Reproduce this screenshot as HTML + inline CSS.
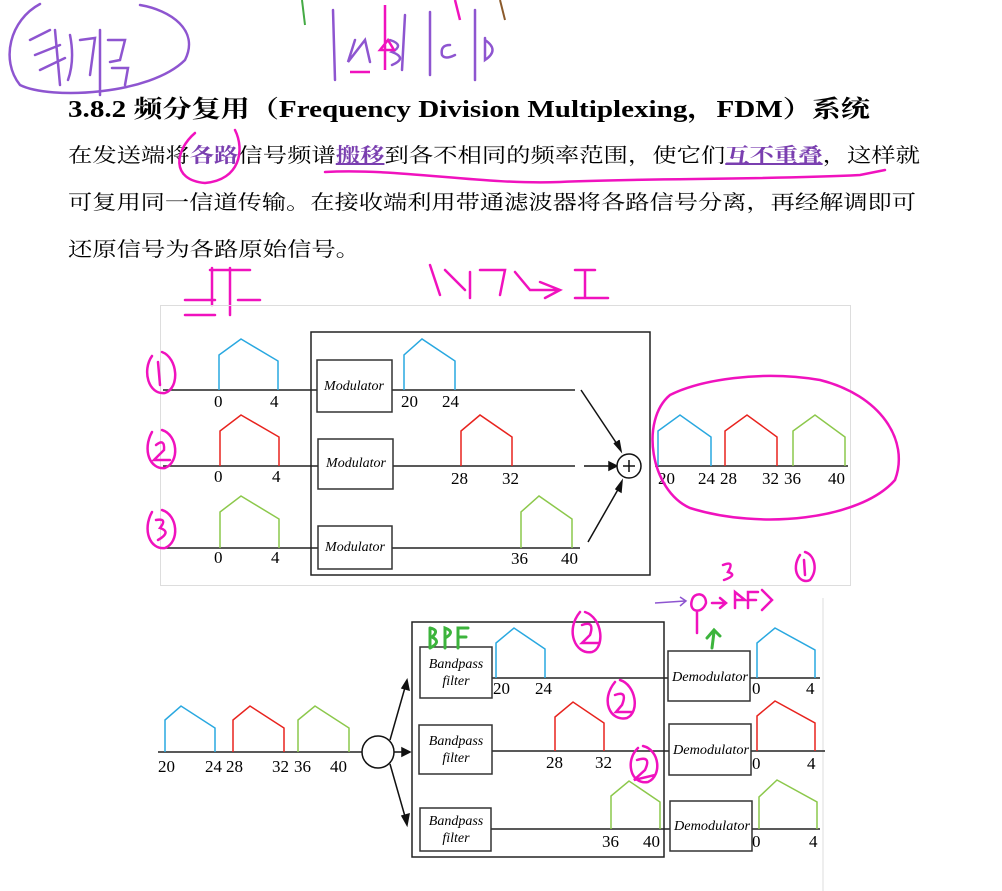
<!DOCTYPE html>
<html><head><meta charset="utf-8"><style>
html,body{margin:0;padding:0;background:#fff;}
svg{display:block;}
.cn{font-family:"Liberation Serif","Noto Serif CJK SC",serif;}
.it{font-family:"Liberation Serif",serif;font-style:italic;font-size:14px;}
.num{font-family:"Liberation Serif",serif;font-size:17px;}
</style></head><body>
<svg width="1002" height="891" viewBox="0 0 1002 891" xmlns="http://www.w3.org/2000/svg">
<g fill="none" stroke="#8e55d0" stroke-width="2.5" stroke-linecap="round">
<path d="M40 4 C10 20 0 60 20 85 C50 100 150 95 185 60 C200 30 170 10 140 5"/>
<path d="M30 40 L50 30 M35 55 L60 45 M40 70 L65 58 M55 30 L60 85 M70 35 Q75 60 68 80 M80 40 L95 38 L90 75 M100 30 L100 95 M108 40 L125 40 L120 60 L110 62 M112 68 L128 68 L125 85"/>
<path d="M333 10 L335 80 M475 10 L475 80 M405 15 L402 70 M430 12 L430 75 M355 40 L348 62 L365 40 L370 62 M390 40 Q405 45 392 52 Q408 58 392 65 M450 45 Q440 45 442 55 Q445 60 455 55 M485 38 L485 60 Q500 50 485 40"/>
</g>
<g fill="none" stroke="#f012be" stroke-width="2.5"><path d="M385 5 L385 70 M380 50 L388 40 L394 50 Z M455 0 L460 20"/><path d="M350 72 L370 72"/></g>
<path d="M302 0 L305 25" stroke="#4a4" stroke-width="2"/>
<path d="M500 0 L505 20" stroke="#8b5a2b" stroke-width="2"/>

<text x="68" y="117" class="cn" font-size="24" font-weight="bold" textLength="802" lengthAdjust="spacingAndGlyphs">3.8.2  频分复用（Frequency Division Multiplexing，FDM）系统</text>
<text x="68" y="162" class="cn" font-size="20" textLength="852" lengthAdjust="spacingAndGlyphs">在发送端将<tspan fill="#7a3fb0" font-weight="bold">各路</tspan>信号频谱<tspan fill="#7a3fb0" font-weight="bold" text-decoration="underline">搬移</tspan>到各不相同的频率范围，使它们<tspan fill="#7a3fb0" font-weight="bold" text-decoration="underline">互不重叠</tspan>，这样就</text>
<text x="68" y="209" class="cn" font-size="20" textLength="848" lengthAdjust="spacingAndGlyphs">可复用同一信道传输。在接收端利用带通滤波器将各路信号分离，再经解调即可</text>
<text x="68" y="256" class="cn" font-size="20" textLength="292" lengthAdjust="spacingAndGlyphs">还原信号为各路原始信号。</text>
<g fill="none" stroke="#f012be" stroke-width="2.5" stroke-linecap="round">
<path d="M195 133 C175 150 170 180 205 183 C240 180 245 150 235 130"/>
<path d="M325 172 C400 168 480 185 560 182 C650 178 760 180 860 175 L885 170"/>
<path d="M185 300 L215 300 M212 268 L212 305 M230 268 L230 315 M210 270 L250 270 M238 300 L260 300 M185 315 L215 315"/>
<path d="M430 265 L440 295 M445 270 L465 290 M470 272 L470 298 M480 270 L505 270 L500 295 M515 272 L530 290 L560 290 M540 282 L560 290 L545 298 M575 270 L595 270 M585 270 L585 298 M575 298 L608 298"/>
</g>

<rect x="160.5" y="305.5" width="690" height="280" fill="none" stroke="#ddd"/>
<rect x="311" y="332" width="339" height="243" fill="none" stroke="#222" stroke-width="1.5"/>
<g stroke="#222" stroke-width="1.5" fill="none">
<line x1="163" y1="390" x2="575" y2="390"/>
<line x1="163" y1="466" x2="575" y2="466"/>
<line x1="163" y1="548" x2="580" y2="548"/>
<line x1="655" y1="466" x2="848" y2="466"/>
</g>
<g fill="#fff" stroke="#333" stroke-width="1.5">
<rect x="317" y="360" width="75" height="52"/>
<rect x="318" y="439" width="75" height="50"/>
<rect x="318" y="526" width="74" height="43"/>
</g>
<text x="354" y="390" class="it" text-anchor="middle">Modulator</text>
<text x="356" y="467" class="it" text-anchor="middle">Modulator</text>
<text x="355" y="551" class="it" text-anchor="middle">Modulator</text>
<g fill="none" stroke-width="1.5">
<path d="M219 390 V355 L241 339 L278 361 V390" stroke="#29a8e0"/>
<path d="M220 466 V431 L241 415 L279 437 V466" stroke="#e8231e"/>
<path d="M220 548 V512 L241 496 L279 519 V548" stroke="#8cc84b"/>
<path d="M404 390 V355 L422 339 L455 361 V390" stroke="#29a8e0"/>
<path d="M461 466 V431 L480 415 L512 437 V466" stroke="#e8231e"/>
<path d="M521 548 V512 L539 496 L572 519 V548" stroke="#8cc84b"/>
<path d="M658 466 V431 L680 415 L711 437 V466" stroke="#29a8e0"/>
<path d="M725 466 V431 L747 415 L777 437 V466" stroke="#e8231e"/>
<path d="M793 466 V431 L815 415 L845 437 V466" stroke="#8cc84b"/>
</g>
<g class="num">
<text x="214" y="407">0</text><text x="270" y="407">4</text>
<text x="214" y="482">0</text><text x="272" y="482">4</text>
<text x="214" y="563">0</text><text x="271" y="563">4</text>
<text x="401" y="407">20</text><text x="442" y="407">24</text>
<text x="451" y="484">28</text><text x="502" y="484">32</text>
<text x="511" y="564">36</text><text x="561" y="564">40</text>
<text x="658" y="484">20</text><text x="698" y="484">24</text><text x="720" y="484">28</text><text x="762" y="484">32</text><text x="784" y="484">36</text><text x="828" y="484">40</text>
</g>
<g stroke="#111" stroke-width="1.5" fill="none">
<line x1="581" y1="390" x2="619" y2="447"/><path d="M614 443 L621 451 L619 440" fill="#111"/>
<line x1="584" y1="466" x2="612" y2="466"/><path d="M609 462 L617 466 L609 470Z" fill="#111"/>
<line x1="588" y1="542" x2="620" y2="486"/><path d="M616 489 L622 481 L621 492Z" fill="#111"/>
<circle cx="629" cy="466" r="12" fill="#fff"/>
<path d="M629 460 V472 M623 466 H635"/>
</g>
<g fill="none" stroke="#f012be" stroke-width="2.5" stroke-linecap="round">
<path d="M152 356 C142 370 148 395 165 393 C180 388 178 358 162 352 M158 362 L160 385"/>
<path d="M152 432 C142 450 150 470 165 468 C180 462 178 435 162 430 M156 445 Q165 438 164 450 L154 460 L170 460"/>
<path d="M152 512 C142 530 150 550 165 548 C180 542 178 515 162 510 M156 520 Q168 518 160 528 Q172 532 158 540"/>
<path d="M670 395 C640 420 650 490 690 508 C760 530 860 520 895 480 C910 440 880 395 820 380 C760 370 700 380 670 395"/>
</g>

<line x1="823" y1="598" x2="823" y2="891" stroke="#ddd"/>
<rect x="412" y="622" width="252" height="235" fill="none" stroke="#222" stroke-width="1.5"/>
<g stroke="#222" stroke-width="1.5" fill="none">
<line x1="158" y1="752" x2="362" y2="752"/>
<line x1="491" y1="678" x2="820" y2="678"/>
<line x1="491" y1="751" x2="825" y2="751"/>
<line x1="491" y1="829" x2="820" y2="829"/>
</g>
<g fill="none" stroke-width="1.5">
<path d="M165 752 V720 L181 706 L215 728 V752" stroke="#29a8e0"/>
<path d="M233 752 V720 L250 706 L284 728 V752" stroke="#e8231e"/>
<path d="M298 752 V720 L315 706 L349 728 V752" stroke="#8cc84b"/>
<path d="M496 678 V643 L514 628 L545 649 V678" stroke="#29a8e0"/>
<path d="M555 751 V717 L573 702 L604 723 V751" stroke="#e8231e"/>
<path d="M611 829 V796 L629 781 L660 802 V829" stroke="#8cc84b"/>
<path d="M757 678 V643 L775 628 L815 650 V678" stroke="#29a8e0"/>
<path d="M757 751 V716 L775 701 L815 723 V751" stroke="#e8231e"/>
<path d="M759 829 V797 L777 780 L817 802 V829" stroke="#8cc84b"/>
</g>
<g class="num">
<text x="158" y="772">20</text><text x="205" y="772">24</text><text x="226" y="772">28</text><text x="272" y="772">32</text><text x="294" y="772">36</text><text x="330" y="772">40</text>
<text x="493" y="694">20</text><text x="535" y="694">24</text>
<text x="546" y="768">28</text><text x="595" y="768">32</text>
<text x="602" y="847">36</text><text x="643" y="847">40</text>
<text x="752" y="694">0</text><text x="806" y="694">4</text>
<text x="752" y="769">0</text><text x="807" y="769">4</text>
<text x="752" y="847">0</text><text x="809" y="847">4</text>
</g>
<g fill="#fff" stroke="#333" stroke-width="1.5">
<rect x="420" y="647" width="72" height="51"/>
<rect x="419" y="725" width="73" height="49"/>
<rect x="420" y="808" width="71" height="43"/>
<rect x="668" y="651" width="82" height="50"/>
<rect x="669" y="724" width="82" height="51"/>
<rect x="670" y="801" width="82" height="50"/>
</g>
<g class="it" text-anchor="middle">
<text x="456" y="668">Bandpass</text><text x="456" y="685">filter</text>
<text x="456" y="745">Bandpass</text><text x="456" y="762">filter</text>
<text x="456" y="825">Bandpass</text><text x="456" y="842">filter</text>
</g>
<g class="it">
<text x="672" y="681" textLength="76" lengthAdjust="spacingAndGlyphs">Demodulator</text>
<text x="673" y="754" textLength="76" lengthAdjust="spacingAndGlyphs">Demodulator</text>
<text x="674" y="830" textLength="76" lengthAdjust="spacingAndGlyphs">Demodulator</text>
</g>
<g stroke="#111" stroke-width="1.5" fill="none">
<ellipse cx="378" cy="752" rx="16" ry="16" fill="#fff"/>
<line x1="390" y1="740" x2="406" y2="684"/><path d="M402 688 L407 680 L409 690Z" fill="#111"/>
<line x1="394" y1="752" x2="405" y2="752"/><path d="M402 748 L410 752 L402 756Z" fill="#111"/>
<line x1="390" y1="764" x2="406" y2="820"/><path d="M402 816 L407 825 L409 814Z" fill="#111"/>
</g>
<g fill="none" stroke="#f012be" stroke-width="2.5" stroke-linecap="round">
<path d="M580 612 C565 630 575 655 592 652 C605 648 603 618 585 612 M582 625 Q595 620 590 635 L582 643 L598 643"/>
<path d="M615 682 C600 700 610 722 627 718 C640 712 636 685 620 680 M615 695 Q628 690 622 705 L616 712 L632 712"/>
<path d="M638 748 C625 760 630 785 648 782 C662 776 660 750 643 746 M637 760 Q652 755 645 770 L634 780 L655 775"/>
<path d="M692 600 C688 612 702 615 706 603 C706 592 694 592 692 600 M697 612 L697 633"/>
<path d="M712 603 L725 603 M720 598 L726 603 L720 608 M735 608 L735 592 L745 600 L735 600 M748 608 L748 592 L758 592 M748 600 L756 600 M762 590 L772 600 L762 610"/>
<path d="M723 565 Q735 560 728 572 Q738 575 724 580"/>
<path d="M800 555 C790 570 800 585 810 580 C818 570 815 555 805 552 M804 560 L805 575"/>
</g>
<path d="M655 603 L685 601 M680 597 L686 601 L680 606" stroke="#8e55d0" stroke-width="1.5" fill="none"/>
<g fill="none" stroke="#3cb43c" stroke-width="3" stroke-linecap="round">
<path d="M712 648 L714 632 M707 638 L714 630 L720 636"/>
<path d="M430 628 L430 648 M430 628 Q440 630 432 637 Q442 642 430 648 M445 648 L445 628 Q456 632 445 638 M458 648 L458 628 L468 628 M458 637 L466 637"/>
</g>
</svg>
</body></html>
